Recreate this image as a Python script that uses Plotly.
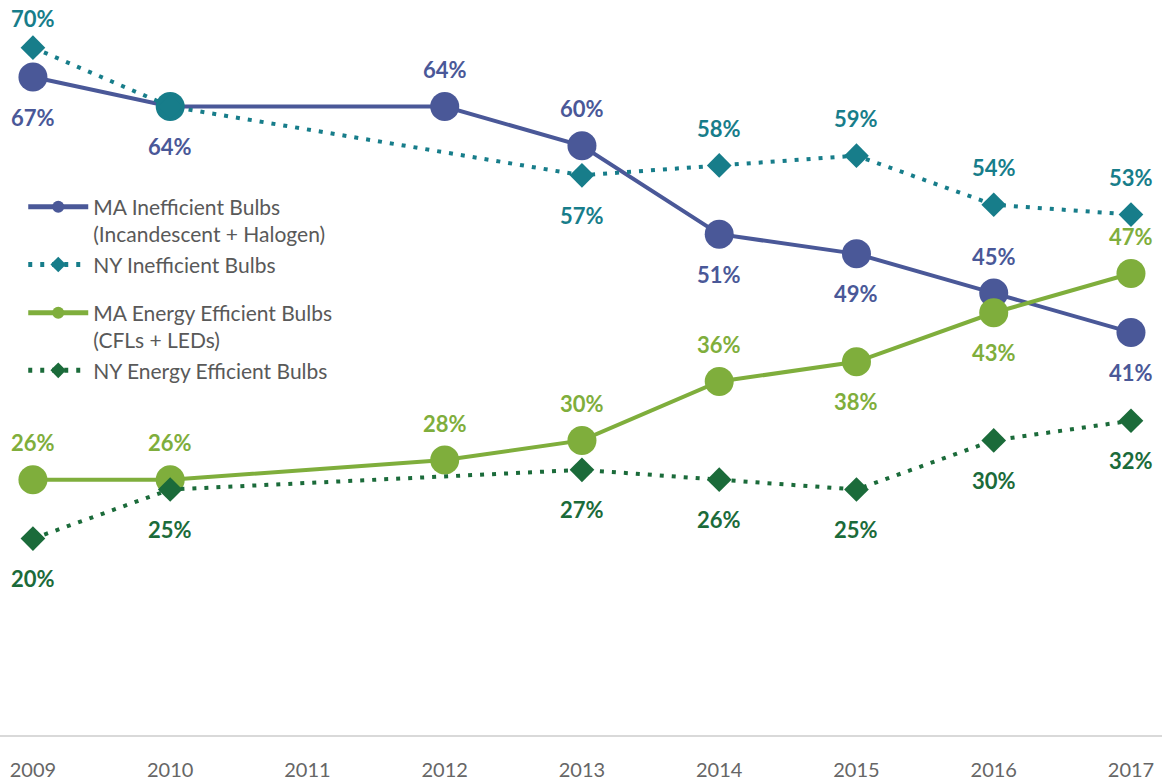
import plotly.graph_objects as go

years = [2009, 2010, 2011, 2012, 2013, 2014, 2015, 2016, 2017]

ma_years = [2009, 2010, 2012, 2013, 2014, 2015, 2016, 2017]
ny_years = [2009, 2010, 2013, 2014, 2015, 2016, 2017]

ma_ineff = [67, 64, 64, 60, 51, 49, 45, 41]
ny_ineff = [70, 64, 57, 58, 59, 54, 53]
ma_eff = [26, 26, 28, 30, 36, 38, 43, 47]
ny_eff = [20, 25, 27, 26, 25, 30, 32]

# label placement: 'a' = above, 'b' = below, 't' = above (tight, near top edge), None = no label
ma_ineff_pos = ['b', 'b', 'a', 'a', 'b', 'b', 'a', 'b']
ny_ineff_pos = ['t', None, 'b', 'a', 'a', 'a', 'a']
ma_eff_pos = ['a', 'a', 'a', 'a', 'a', 'b', 'b', 'a']
ny_eff_pos = ['b', 'b', 'b', 'b', 'b', 'b', 'b']

C_MA_IN = '#4A5898'
C_NY_IN = '#177D8A'
C_MA_EF = '#7FAE3C'
C_NY_EF = '#1B6B3A'
GRAY = '#595959'
FONT = 'Lato'

SHIFTS = {'a': 37, 't': 29, 'b': -40}

fig = go.Figure()

fig.add_trace(go.Scatter(
    x=ma_years, y=ma_ineff, mode='lines+markers',
    name='MA Inefficient Bulbs<br>(Incandescent + Halogen)',
    legendgroup='ineff',
    line=dict(color=C_MA_IN, width=4),
    marker=dict(symbol='circle', size=29,
                color=[C_MA_IN, C_NY_IN] + [C_MA_IN] * 6),
))
fig.add_trace(go.Scatter(
    x=ny_years, y=ny_ineff, mode='lines+markers',
    name='NY Inefficient Bulbs',
    legendgroup='ineff',
    line=dict(color=C_NY_IN, width=4, dash='4px,8px'),
    marker=dict(symbol='diamond', size=19, color=C_NY_IN),
))
fig.add_trace(go.Scatter(
    x=ma_years, y=ma_eff, mode='lines+markers',
    name='MA Energy Efficient Bulbs<br>(CFLs + LEDs)',
    legendgroup='eff',
    line=dict(color=C_MA_EF, width=4),
    marker=dict(symbol='circle', size=29, color=C_MA_EF),
))
fig.add_trace(go.Scatter(
    x=ny_years, y=ny_eff, mode='lines+markers',
    name='NY Energy Efficient Bulbs',
    legendgroup='eff',
    line=dict(color=C_NY_EF, width=4, dash='4px,8px'),
    marker=dict(symbol='diamond', size=19, color=C_NY_EF),
))

annotations = []
def add_labels(xs, ys, pos, color):
    for x, y, p in zip(xs, ys, pos):
        if p is None:
            continue
        annotations.append(dict(
            x=x, y=y, xref='x', yref='y', text=f'<b>{y}%</b>',
            showarrow=False, yshift=SHIFTS[p],
            font=dict(family=FONT, size=22, color=color),
        ))

add_labels(ma_years, ma_ineff, ma_ineff_pos, C_MA_IN)
add_labels(ny_years, ny_ineff, ny_ineff_pos, C_NY_IN)
add_labels(ma_years, ma_eff, ma_eff_pos, C_MA_EF)
add_labels(ny_years, ny_eff, ny_eff_pos, C_NY_EF)

fig.update_layout(
    width=1162, height=781,
    margin=dict(l=0, r=0, t=0, b=46),
    paper_bgcolor='white', plot_bgcolor='white',
    font=dict(family=FONT, color=GRAY),
    annotations=annotations,
    showlegend=True,
    legend=dict(
        x=0.02, y=0.746, xanchor='left', yanchor='top',
        font=dict(family=FONT, size=21, color=GRAY),
        traceorder='grouped', tracegroupgap=18,
        valign='top', itemsizing='constant', itemwidth=60,
        bgcolor='rgba(0,0,0,0)',
    ),
    xaxis=dict(
        range=[2008.76, 2017.226], tickmode='array', tickvals=years,
        ticktext=[str(y) for y in years],
        showgrid=False, zeroline=False,
        showline=True, linecolor='#D9D9D9', linewidth=2,
        tickfont=dict(family=FONT, size=20, color='#666666'),
        ticks='', ticklabelstandoff=16,
    ),
    yaxis=dict(
        range=[0, 74.85], visible=False, showgrid=False, zeroline=False,
    ),
)

fig.write_html('out.html', config={'displayModeBar': False},
               post_script="document.body.style.margin='0';document.body.style.overflow='hidden';")
